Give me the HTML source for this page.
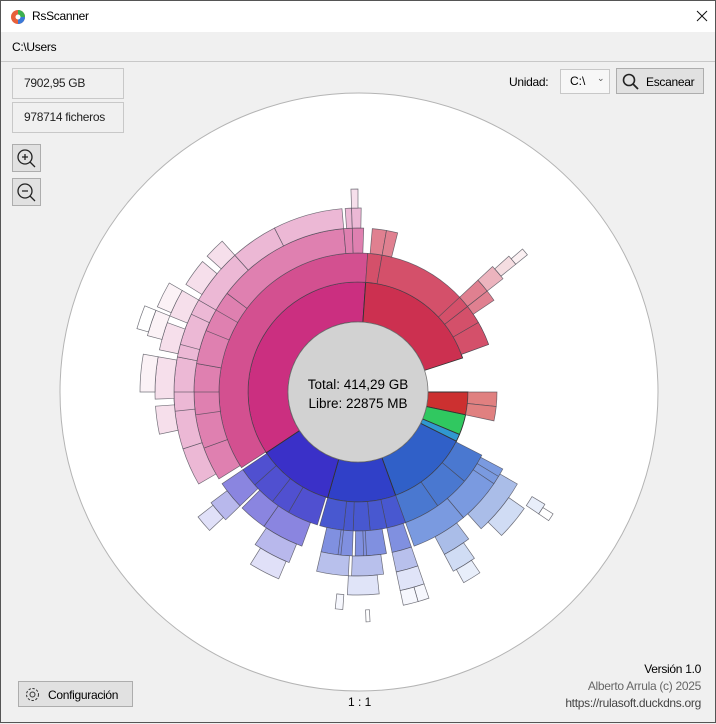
<!DOCTYPE html>
<html><head><meta charset="utf-8">
<style>
*{box-sizing:border-box;margin:0;padding:0}
body{width:716px;height:723px;overflow:hidden;font-family:"Liberation Sans",sans-serif;font-size:12px;color:#000;background:#f0f0f0}
#win{position:absolute;left:0;top:0;width:716px;height:723px;border:1px solid #555;background:#f0f0f0}
#title{position:absolute;left:0;top:0;width:714px;height:31px;background:#fff}
.abs{position:absolute}
.box{position:absolute;background:#f0f0f0;border:1px solid #c8c8c8;padding-left:11px;line-height:28px;font-size:12px;letter-spacing:-0.3px;color:#222}
.btn{position:absolute;background:#e1e1e1;border:1px solid #adadad;font-size:12px;letter-spacing:-0.3px}
</style></head><body>
<div id="win">
<div id="title">
  <svg class="abs" style="left:9px;top:8px" width="16" height="16"><circle cx="8" cy="8" r="7" fill="#e8603a"/><path d="M8 8 L8 1 A7 7 0 0 1 15 8Z" fill="#3cb050"/><path d="M8 8 L15 8 A7 7 0 0 1 8 15Z" fill="#3a7ad8"/><circle cx="8" cy="8" r="2.5" fill="#fff"/></svg>
  <div class="abs" style="left:31px;top:8px;font-size:12px;letter-spacing:-0.3px">RsScanner</div>
  <svg class="abs" style="left:695px;top:9px" width="12" height="12"><path d="M1 1 L11 11 M11 1 L1 11" stroke="#111" stroke-width="1"/></svg>
</div>
<div class="abs" style="left:11px;top:39px;font-size:12px;letter-spacing:-0.3px">C:\Users</div>
<div class="abs" style="left:0;top:60px;width:714px;height:1px;background:#c8c8c8"></div>
<div class="box" style="left:11px;top:67px;width:112px;height:31px">7902,95 GB</div>
<div class="box" style="left:11px;top:101px;width:112px;height:31px">978714 ficheros</div>
<div class="btn" style="left:11px;top:143px;width:29px;height:28px"><svg width="27" height="26"><circle cx="12" cy="12" r="7" fill="none" stroke="#222" stroke-width="1.3"/><path d="M17 17 L22 22 M9 12 H15 M12 9 V15" stroke="#222" stroke-width="1.3"/></svg></div>
<div class="btn" style="left:11px;top:177px;width:29px;height:28px"><svg width="27" height="26"><circle cx="12" cy="12" r="7" fill="none" stroke="#222" stroke-width="1.3"/><path d="M17 17 L22 22 M9 12 H15" stroke="#222" stroke-width="1.3"/></svg></div>
<div class="abs" style="left:508px;top:74px;letter-spacing:-0.3px">Unidad:</div>
<div class="abs" style="left:559px;top:68px;width:50px;height:25px;background:#f7f7f7;border:1px solid #c8c8c8;padding:4px 0 0 9px">C:\<span style="position:absolute;left:36px;top:3px;font-size:9px;color:#555">⌄</span></div>
<div class="btn" style="left:615px;top:67px;width:88px;height:26px"><svg class="abs" style="left:5px;top:4px" width="18" height="18"><circle cx="7" cy="7" r="5.5" fill="none" stroke="#222" stroke-width="1.6"/><path d="M11 11 L16 16" stroke="#222" stroke-width="1.8"/></svg><span class="abs" style="left:29px;top:6px">Escanear</span></div>

<svg class="abs" style="left:0;top:0" width="716" height="723" id="chart">
  <circle cx="358" cy="391" r="299" fill="#fff" stroke="#b4b4b4" stroke-width="1"/>
  <g id="segs"></g>
  <circle cx="357" cy="391" r="70" fill="#d2d2d2" stroke="#777" stroke-width="0.8"/>
  <text x="357" y="388" text-anchor="middle" font-size="13.5" font-family="Liberation Sans, sans-serif">Total: 414,29 GB</text>
  <text x="357" y="407" text-anchor="middle" font-size="13.5" font-family="Liberation Sans, sans-serif">Libre: 22875 MB</text>
</svg>

<div class="btn" style="left:17px;top:680px;width:115px;height:26px"><svg class="abs" style="left:5px;top:4px" width="17" height="17"><circle cx="8.5" cy="8.5" r="2.5" fill="none" stroke="#333"/><circle cx="8.5" cy="8.5" r="6" fill="none" stroke="#333" stroke-dasharray="2.4 1.6"/></svg><span class="abs" style="left:29px;top:6px">Configuración</span></div>
<div class="abs" style="left:347px;top:694px">1 : 1</div>
<div class="abs" style="right:14px;top:661px;text-align:right;letter-spacing:-0.3px">Versión 1.0</div>
<div class="abs" style="right:14px;top:678px;text-align:right;color:#666;letter-spacing:-0.3px">Alberto Arrula (c) 2025</div>
<div class="abs" style="right:14px;top:695px;text-align:right;color:#444;letter-spacing:-0.3px">https://rulasoft.duckdns.org</div>
</div>
<script>
// ring radii per depth level
var radii = [70,110,139,164,184,203,218,230];
// segment data: level, start angle (deg, clockwise from top), end angle
var segLevel = [1,1,1,1,1,1,1,1,
 2,2,2,2,2,2,2,2,2,2,2,2,2,2,2,2,2,2,2,2,
 3,3,3,3,3,3,3,3,3,3,3,3,3,3,3,3,3,3,3,3,3,3,3,
 4,4,4,4,4,4,4,4,4,4,4,4,4,4,4,4,4,4,
 5,5,5,5,5,5,5,5,5,5,5,5,5,5,
 6,6,6,6,6,6,6,6,6,
 7,7,7];
var segStart = [236.5,4,90,102,112.7,116.6,160,196,
 237,4,10,90,96,117,130,145,160,168,175,182,186,197,210,218,228,52,60,47,
 238,250,280,307,355,358,5,10,47,52,118,140,161,170,182,200,215,226,262,292,186,177,121,
 240,252,281,300,318,333,356,358,47,120,143,161,172,183,202,226,264,285,
 258,268,282,292,302,312,48,125,145,161,174,203,227,358,
 270,285,293,49,146,161,164,184,121,
 286,122,177];
var segEnd = [364,72,102,112.7,116.6,160,196,236.5,
 364,10,70,96,102,130,145,160,168,175,182,186,196,210,218,228,236,60,70,52,
 250,280,307,355,358,362,10,14,52,56,140,160,168,181,193,215,225,236,270,300,187,178,124,
 252,281,300,318,333,355,358,361,52,138,152,168,182,193,214,233,270,295,
 266,280,290,300,310,318,51,135,152,168,183,212,232,360,
 280,292,300,51,151,164,168,186,124,
 292,124,178];
// branch per segment (index into palette)
var segBranch = [0,1,2,3,4,5,6,7,
 0,1,1,2,2,5,5,5,6,6,6,6,6,7,7,7,7,1,1,1,
 0,0,0,0,0,0,1,1,1,1,5,5,6,6,6,7,7,7,0,0,6,6,5,
 0,0,0,0,0,0,0,0,1,5,5,6,6,6,7,7,0,0,
 0,0,0,0,0,0,1,5,5,6,6,7,7,0,
 0,0,0,1,5,6,6,6,5,
 0,5,6];
var palette = [
 ["#cb2f80","#d35090","#df80b0","#ecb8d5","#f6dfeb","#fbf2f6","#fff"],
 ["#cc3050","#d4506a","#e08090","#ecb4be","#f5dde1","#fbf0f2","#fff"],
 ["#cc3030","#e08080","#eeb0b0","#f6dada","#fff","#fff","#fff"],
 ["#30c860","#80dca0","#c0eecc","#fff","#fff","#fff","#fff"],
 ["#3098d0","#80c0e8","#c0e0f4","#fff","#fff","#fff","#fff"],
 ["#3060c8","#4a78d0","#7a9ae0","#aabde8","#d0dcf4","#e8eefa","#fff"],
 ["#3040c8","#4858d0","#8090e0","#b8c0ec","#e0e4f8","#f6f7fd","#fff"],
 ["#3a30c8","#5050d0","#8a85e0","#b8b8ec","#e0e0f8","#f4f4fc","#fff"]];
var cx=357, cy=391;
function pt(r,a){var t=a*Math.PI/180;return [cx+r*Math.sin(t), cy-r*Math.cos(t)];}
function sector(r0,r1,a0,a1){
  var large=(a1-a0)>180?1:0;
  var p0=pt(r0,a0),p1=pt(r1,a0),p2=pt(r1,a1),p3=pt(r0,a1);
  return "M"+p0[0]+" "+p0[1]+"L"+p1[0]+" "+p1[1]+"A"+r1+" "+r1+" 0 "+large+" 1 "+p2[0]+" "+p2[1]+"L"+p3[0]+" "+p3[1]+"A"+r0+" "+r0+" 0 "+large+" 0 "+p0[0]+" "+p0[1]+"Z";
}
var g=document.getElementById('segs');
var n=Math.min(segLevel.length,segStart.length,segEnd.length,segBranch.length);
for(var i=0;i<n;i++){
  var L=segLevel[i];
  var p=document.createElementNS('http://www.w3.org/2000/svg','path');
  p.setAttribute('d',sector(radii[L-1],radii[L],segStart[i],segEnd[i]));
  p.setAttribute('fill',palette[segBranch[i]][L-1]);
  p.setAttribute('stroke',L===1?'#333':'rgba(70,70,80,0.75)');
  p.setAttribute('stroke-width',L===1?'0.9':'0.7');
  
  
  g.appendChild(p);
}
</script>
</body></html>
